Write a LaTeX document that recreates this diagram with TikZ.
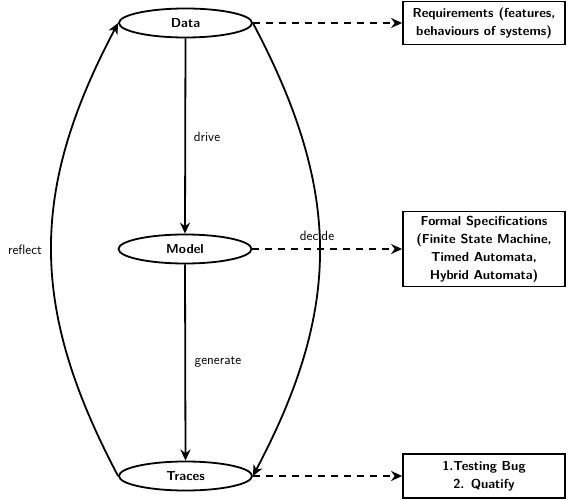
\documentclass[tikz,border=0pt]{standalone}
\usetikzlibrary{arrows.meta,shapes.geometric}
\begin{document}
\begin{tikzpicture}[x=1pt,y=-1pt,
  lbl/.style={font=\sffamily\fontsize{13.5}{18}\selectfont,inner sep=0pt},
  stage/.style={ellipse,draw,line width=1.8pt,minimum width=133pt,minimum height=29pt,inner sep=0pt,font=\sffamily\bfseries\fontsize{13}{18}\selectfont},
  infobox/.style={draw,line width=1.8pt,minimum width=162pt,align=center,inner sep=0pt,font=\sffamily\bfseries\fontsize{13}{18}\selectfont},
  flow/.style={line width=1.8pt,-{Stealth[length=11pt,width=10pt]}},
  link/.style={flow,dash pattern=on 7pt off 6pt},
]
\useasboundingbox (0,0) rectangle (568,500);
\node[stage] (data) at (185.5,23) {Data};
\node[stage] (model) at (185,249) {Model};
\node[stage] (traces) at (185.5,476) {Traces};
\node[infobox,minimum height=43pt] (req) at (484,23) {Requirements (features,\\behaviours of systems)};
\node[infobox,minimum height=75pt] (formal) at (484,249) {Formal Specifications\\(Finite State Machine,\\Timed Automata,\\Hybrid Automata)};
\node[infobox,minimum height=44pt] (test) at (484,476) {1.Testing Bug\\2. Quatify};
\draw[link] (data.east) -- (req.west);
\draw[link] (model.east) -- (formal.west);
\draw[link] (traces.east) -- (test.west);
\draw[flow] (data.south) -- (model.north);
\draw[flow] (model.south) -- (traces.north);
\draw[flow] (traces.west) .. controls +(-89,-168) and +(-89,168) .. (data.west);
\draw[flow] (data.east) .. controls +(89,168) and +(89,-168) .. (traces.east);
\node[lbl] (ldrive) at (207,137) {drive};
\node[lbl] (lgen) at (218,362) {generate};
\node[lbl] (lrefl) at (25,250) {reflect};
\node[lbl] (ldec) at (317,236) {decide};
\end{tikzpicture}
\end{document}
